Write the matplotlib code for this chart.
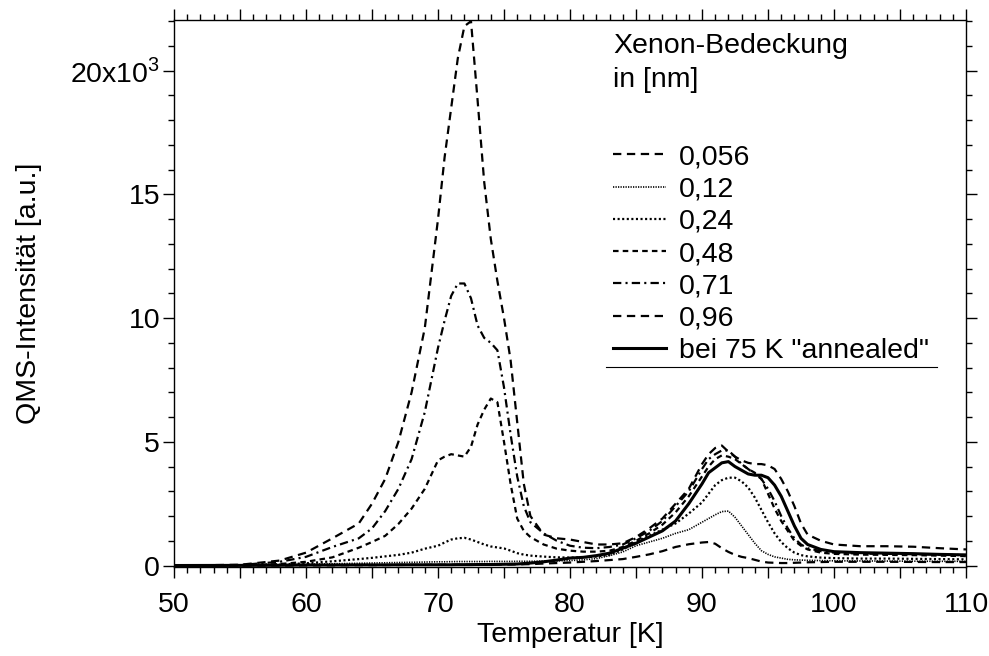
import matplotlib
matplotlib.use("Agg")
import matplotlib.pyplot as plt
from matplotlib.ticker import MultipleLocator, FuncFormatter
from matplotlib.lines import Line2D

plt.rcParams['font.family'] = ['Liberation Sans', 'DejaVu Sans']
plt.rcParams['mathtext.fontset'] = 'custom'
plt.rcParams['mathtext.rm'] = 'Liberation Sans'
plt.rcParams['lines.scale_dashes'] = False

T = [50, 55, 58, 60, 62, 64, 65, 66, 67, 68, 69, 70,
     70.5, 71, 71.5, 72, 72.5, 73, 73.5, 74, 74.5, 75, 75.5, 76, 76.5, 77,
     78, 79, 80, 81, 82, 83, 84, 85, 86, 87, 88, 89, 90,
     90.5, 91, 91.5, 92, 92.5, 93, 93.5, 94, 94.5, 95, 95.5, 96, 96.5, 97, 97.5, 98,
     99, 100, 102, 104, 106, 108, 110]

cov_0056 = [0, 0, 0, 5, 10, 15, 15, 20, 20, 25, 25, 30,
            30, 30, 30, 35, 35, 35, 35, 40, 40, 40, 40, 45, 50, 55,
            80, 100, 120, 150, 180, 220, 260, 350, 450, 580, 750, 860, 930,
            950, 880, 700, 550, 430, 350, 300, 230, 160, 120, 110, 100, 100, 110, 120, 130,
            140, 150, 150, 150, 145, 140, 140]

cov_012 = [0, 10, 30, 50, 70, 90, 100, 110, 120, 130, 140, 150,
           150, 155, 160, 160, 160, 160, 160, 165, 165, 165, 165, 170, 170, 170,
           180, 190, 200, 230, 280, 400, 550, 800, 950, 1100, 1300, 1450, 1750,
           1900, 2050, 2180, 2200, 1950, 1600, 1250, 900, 600, 450, 350, 300, 250, 230, 220, 210,
           200, 190, 185, 180, 175, 170, 170]

cov_024 = [0, 10, 40, 90, 170, 260, 310, 370, 430, 520, 680, 800,
           930, 1050, 1100, 1120, 1050, 950, 850, 770, 730, 690, 600, 500, 440, 400,
           360, 330, 320, 330, 360, 430, 650, 950, 1200, 1450, 1700, 2100, 2550,
           2900, 3250, 3450, 3550, 3550, 3400, 3150, 2750, 2250, 1750, 1300, 950, 700, 520, 420, 370,
           320, 300, 280, 280, 270, 260, 250]

cov_048 = [0, 10, 60, 150, 330, 720, 950, 1200, 1680, 2300, 3100, 4250,
           4400, 4500, 4450, 4400, 4800, 5700, 6300, 6750, 6600, 5000, 3300, 1900, 1400, 1150,
           850, 680, 600, 560, 560, 600, 750, 1000, 1300, 1650, 2150, 2800, 3600,
           4000, 4300, 4450, 4400, 4300, 4100, 3900, 3750, 3500, 2900, 2300, 1800, 1400, 1000, 800, 650,
           520, 470, 440, 430, 420, 400, 380]

cov_071 = [0, 20, 150, 350, 750, 1100, 1500, 2200, 3100, 4300, 6200, 8800,
           9900, 10900, 11400, 11400, 10800, 9700, 9200, 9000, 8700, 7200, 5300, 3600, 2400, 1750,
           1300, 1000, 800, 720, 700, 750, 850, 1100, 1400, 1800, 2400, 3000, 3900,
           4300, 4500, 4650, 4650, 4400, 4100, 3900, 3700, 3500, 3100, 2600, 2000, 1500, 1100, 850, 700,
           580, 520, 480, 470, 460, 440, 420]

cov_096 = [0, 30, 200, 520, 1100, 1700, 2500, 3500, 5000, 7000, 9600, 14000,
           16500, 18500, 20500, 21800, 22000, 18800, 15500, 13200, 11500, 10000, 8300, 5800, 3300, 2000,
           1250, 1100, 1050, 950, 850, 850, 900, 1150, 1500, 1900, 2500, 3100, 4100,
           4500, 4750, 4850, 4600, 4400, 4250, 4150, 4100, 4100, 4050, 3900, 3500, 3000, 2400, 1700, 1250,
           1000, 850, 780, 780, 760, 700, 650]

annealed = [0, 5, 10, 20, 20, 25, 25, 25, 30, 30, 30, 30,
            30, 30, 35, 35, 35, 40, 40, 40, 45, 50, 55, 60, 80, 100,
            150, 220, 300, 330, 400, 500, 700, 900, 1150, 1400, 1800, 2500, 3300,
            3750, 3950, 4150, 4200, 4000, 3850, 3700, 3650, 3650, 3550, 3250, 2800, 2200, 1600, 1100, 850,
            650, 560, 520, 500, 480, 450, 430]

labels = ["0,056", "0,12", "0,24", "0,48", "0,71", "0,96", 'bei 75 K "annealed"']
legend_title = "Xenon-Bedeckung\nin [nm]"

series = [cov_0056, cov_012, cov_024, cov_048, cov_071, cov_096, annealed]
styles = [
    dict(lw=1.6, ls=(0, (6, 4))),
    dict(lw=1.2, ls=(0, (0.9, 0.9))),
    dict(lw=1.6, ls=(0, (1.5, 1.8))),
    dict(lw=1.6, ls=(0, (4, 3))),
    dict(lw=1.6, ls=(0, (6, 3, 1.5, 3))),
    dict(lw=1.6, ls=(0, (6, 4))),
    dict(lw=2.2, ls='-'),
]

FS = 20.5

fig = plt.figure(figsize=(9.89, 6.56), dpi=100)
ax = fig.add_axes([174/989, 1-567/656, (966-174)/989, (567-20)/656])

handles = []
for y, lab, st in zip(series, labels, styles):
    h, = ax.plot(T, y, color='black', label=lab, **st)
    handles.append(h)

ax.set_xlim(50, 110)
ax.set_ylim(-60, 22050)

ax.xaxis.set_major_locator(MultipleLocator(5))
ax.xaxis.set_minor_locator(MultipleLocator(1))
ax.xaxis.set_major_formatter(FuncFormatter(lambda v, p: f"{int(round(v))}" if round(v) % 10 == 0 else ""))
ax.yaxis.set_major_locator(MultipleLocator(5000))
ax.yaxis.set_minor_locator(MultipleLocator(1000))

def yfmt(v, p):
    k = int(round(v / 1000))
    if k == 20:
        return "20x10$^3$"
    return f"{k}"
ax.yaxis.set_major_formatter(FuncFormatter(yfmt))

ax.tick_params(which='both', direction='out', top=True, right=True, labelsize=FS, width=1.0, color='black')
ax.tick_params(which='major', length=8)
ax.tick_params(which='minor', length=4.5)
ax.tick_params(axis='x', pad=10)
ax.tick_params(axis='y', pad=2)
for s in ax.spines.values():
    s.set_linewidth(1.0)

ax.set_xlabel("Temperatur [K]", fontsize=FS, labelpad=3)
ax.set_ylabel("QMS-Intensität [a.u.]", fontsize=FS, labelpad=20)

ax.text(613/989, 1-33/656, legend_title, transform=fig.transFigure, fontsize=FS,
        va='top', ha='left', linespacing=1.4)

leg = ax.legend(handles=handles, loc='upper left', bbox_to_anchor=(602/989, 1-133/656),
                bbox_transform=fig.transFigure, frameon=False, fontsize=FS,
                handlelength=1.85, handletextpad=0.45, labelspacing=0.22, borderaxespad=0)

fig.add_artist(Line2D([606/989, 937/989], [1-367/656, 1-367/656], transform=fig.transFigure,
                      color='black', lw=0.8))

fig.savefig("out.png", dpi=100)
